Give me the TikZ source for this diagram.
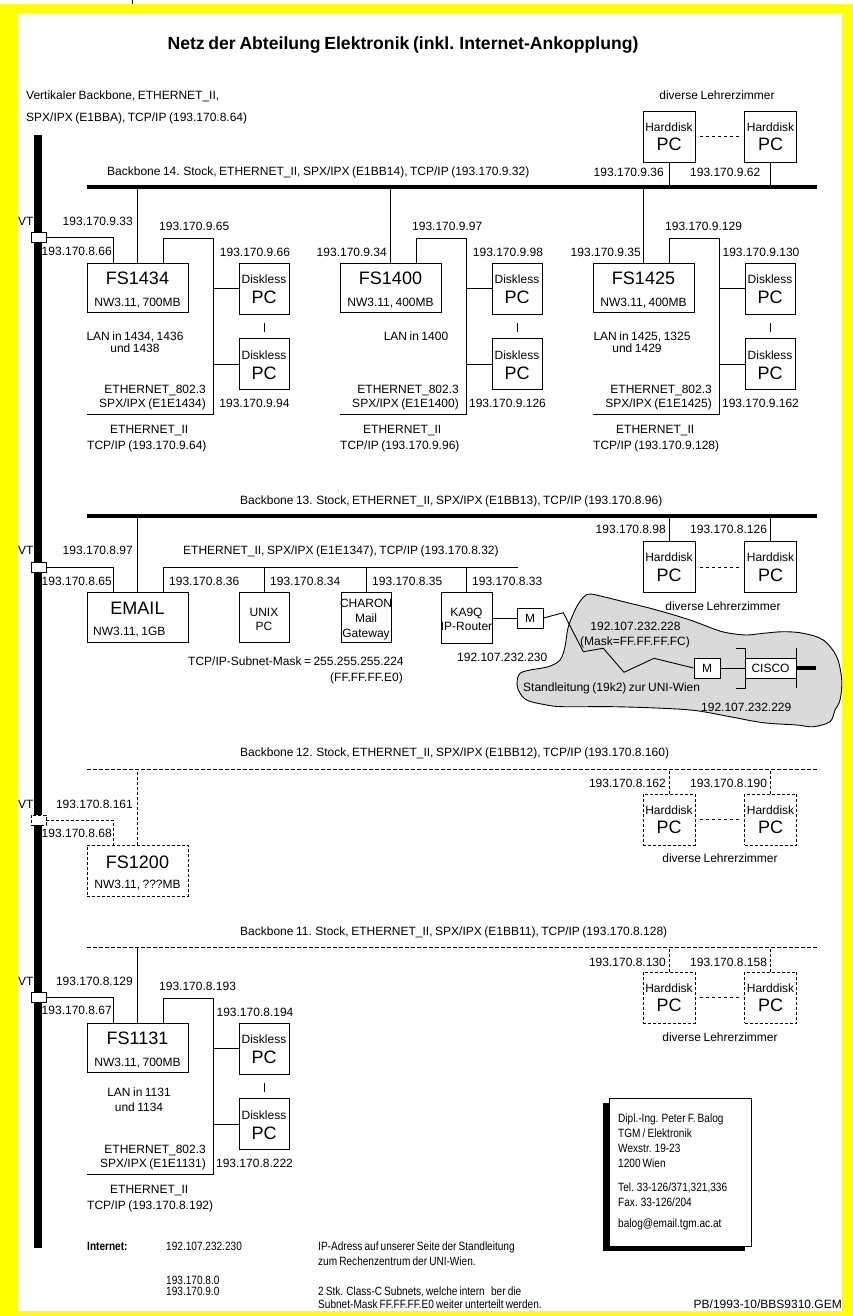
\documentclass[tikz,border=0pt]{standalone}
\usepackage{fontspec}
\setmainfont{Liberation Sans}[WordSpace=0.75]
\newfontfamily\narrowfont{Liberation Sans}[FakeStretch=0.84,WordSpace=0.75]
\usetikzlibrary{calc}
\definecolor{frameyellow}{RGB}{255,255,0}
\definecolor{cloudgray}{RGB}{218,218,218}
\tikzset{
  lbl/.style={inner sep=0pt, font=\fontsize{12}{14}\selectfont, anchor=base, yshift=-4.3pt},
  big/.style={inner sep=0pt, font=\fontsize{18}{20}\selectfont, anchor=base, yshift=-6.5pt},
  ttl/.style={inner sep=0pt, font=\bfseries\fontsize{17.6}{20}\selectfont, anchor=base, yshift=-6.3pt},
  nar/.style={inner sep=0pt, font=\narrowfont\fontsize{12}{14}\selectfont, anchor=base west, yshift=-4.3pt},
  ln/.style={line width=0.9pt},
  srvbox/.style={draw, ln, minimum width=101pt, minimum height=49pt, inner sep=0pt},
  pcbox/.style={draw, ln, minimum width=50pt, minimum height=51pt, inner sep=0pt},
  hdbox/.style={draw, ln, minimum width=52pt, minimum height=51pt, inner sep=0pt},
  smbox/.style={draw, ln, minimum width=50pt, minimum height=50pt, inner sep=0pt},
  vtbox/.style={draw, ln, fill=white, minimum width=15pt, minimum height=10pt, inner sep=0pt},
  mbox/.style={draw, ln, fill=white, minimum width=26pt, minimum height=20pt, inner sep=0pt},
  dsh/.style={dash pattern=on 3pt off 2pt},
  bbdash/.style={line width=0.9pt, dash pattern=on 4pt off 2pt},
  bbthick/.style={line width=3.5pt},
  gapdash/.style={ln, dash pattern=on 3pt off 3pt, shorten <=5pt, shorten >=3pt},
}
\newcommand{\FSgroup}[9]{%
\begin{scope}[shift={#1}]
  \node[srvbox] (#2box) at (50.5,24.5) {};
  \node[big] (#2name) at (50.5,15) {#3};
  \node[lbl] (#2nw) at (50.5,39) {#4};
  \coordinate (#2vp) at (26,0);
  \coordinate (#2lp) at (76,0);
  \coordinate (#2lc) at (126,-25);
  \coordinate (#2lb) at (126,151);
  \coordinate (#2le) at (0,151);
  \node[pcbox] (#2dla) at (177,25.5) {};
  \node[lbl] (#2dlat) at (177,16) {Diskless};
  \node[big] (#2dlap) at (177,34) {PC};
  \node[pcbox] (#2dlb) at (177,101) {};
  \node[lbl] (#2dlbt) at (177,92) {Diskless};
  \node[big] (#2dlbp) at (177,109.5) {PC};
  \draw[ln] (#2lp) |- (#2lc) -- (#2lb) -- (#2le);
  \draw[ln] (#2dla.west -| #2lc) -- (#2dla.west);
  \draw[ln] (#2dlb.west -| #2lc) -- (#2dlb.west);
  \draw[ln, shorten <=9pt, shorten >=6pt] (#2dla.south) -- (#2dlb.north);
  \node[lbl, anchor=base west] (#2iplp) at (72,-37) {#5};
  \node[lbl] (#2ipa) at (168,-11) {#6};
  \node[lbl] (#2ipb) at (167.5,140) {#7};
  \node[lbl, anchor=base east] (#2eth) at (119,126) {ETHERNET\_802.3};
  \node[lbl, anchor=base east] (#2spx) at (119,140) {#8};
  \node[lbl, anchor=base west] (#2ethii) at (23,166) {ETHERNET\_II};
  \node[lbl, anchor=base west] (#2tcp) at (0,182) {#9};
\end{scope}}
\newcommand{\HDbox}[4]{%
  \node[hdbox,#4] (#1) at (#2,#3) {};
  \node[lbl] (#1t) at (#2,#3-9.5) {Harddisk};
  \node[big] (#1p) at (#2,#3+7.5) {PC};}
\begin{document}
\begin{tikzpicture}[x=1pt,y=-1pt]
\useasboundingbox (0,0) rectangle (853,1316);
\fill[frameyellow] (0,4) rectangle (853,1316);
\fill[white] (17,13) rectangle (842,1311);
\draw[ln] (132,0) -- (132,4);
\node[ttl] (title) at (403,43) {Netz der Abteilung Elektronik (inkl. Internet-Ankopplung)};
\node[lbl,anchor=base west] (vbl1) at (26,95) {Vertikaler Backbone, ETHERNET\_II,};
\node[lbl,anchor=base west] (vbl2) at (26,117) {SPX/IPX (E1BBA), TCP/IP (193.170.8.64)};
\coordinate (vtop) at (38,135);
\coordinate (vbot) at (38,1248);
\draw[line width=8pt] (vtop) -- (vbot);

% ---------------- Backbone 14
\coordinate (bb14w) at (87,187);
\coordinate (bb14e) at (817,187);
\draw[bbthick] (bb14w) -- (bb14e);
\node[lbl,anchor=base west] (bb14l) at (107,171) {Backbone 14. Stock, ETHERNET\_II, SPX/IPX (E1BB14), TCP/IP (193.170.9.32)};
\node[lbl] (hd0cap) at (717,95) {diverse Lehrerzimmer};
\HDbox{hd0a}{669}{136.5}{}
\HDbox{hd0b}{770.5}{136.5}{}
\draw[ln] (hd0a.south) -- (hd0a.south |- bb14w);
\draw[ln] (hd0b.south) -- (hd0b.south |- bb14w);
\draw[gapdash] (hd0a.east) -- (hd0b.west);
\node[lbl,anchor=base east] (hd0al) at (664,172) {193.170.9.36};
\node[lbl,anchor=base west] (hd0bl) at (690,172) {193.170.9.62};

\FSgroup{(87,263)}{ga}{FS1434}{NW3.11, 700MB}{193.170.9.65}{193.170.9.66}{193.170.9.94}{SPX/IPX (E1E1434)}{TCP/IP (193.170.9.64)}
\draw[ln] (gabox.north) -- (gabox.north |- bb14w);
\node[vtbox] (vt1) at (38.5,237) {};
\draw[ln] (vt1.east) -| (gavp);
\node[lbl,anchor=base west] (vt1l) at (18,221) {VT};
\node[lbl,anchor=base east] (gaipv) at (112,251) {193.170.8.66};
\node[lbl,anchor=base east] (gaipb) at (133,221) {193.170.9.33};
\node[lbl] (galan1) at (135,336) {LAN in 1434, 1436};
\node[lbl] (galan2) at (135,348) {und 1438};

\FSgroup{(340,263)}{gb}{FS1400}{NW3.11, 400MB}{193.170.9.97}{193.170.9.98}{193.170.9.126}{SPX/IPX (E1E1400)}{TCP/IP (193.170.9.96)}
\draw[ln] (gbbox.north) -- (gbbox.north |- bb14w);
\node[lbl,anchor=base east] (gbipb) at (387,252) {193.170.9.34};
\node[lbl] (gblan1) at (416,336) {LAN in 1400};

\FSgroup{(593,263)}{gc}{FS1425}{NW3.11, 400MB}{193.170.9.129}{193.170.9.130}{193.170.9.162}{SPX/IPX (E1E1425)}{TCP/IP (193.170.9.128)}
\draw[ln] (gcbox.north) -- (gcbox.north |- bb14w);
\node[lbl,anchor=base east] (gcipb) at (641,252) {193.170.9.35};
\node[lbl] (gclan1) at (642,336) {LAN in 1425, 1325};
\node[lbl] (gclan2) at (637,348) {und 1429};

% ---------------- Backbone 13
\coordinate (bb13w) at (87,516);
\coordinate (bb13e) at (817,516);
\draw[bbthick] (bb13w) -- (bb13e);
\node[lbl,anchor=base west] (bb13l) at (240,500) {Backbone 13. Stock, ETHERNET\_II, SPX/IPX (E1BB13), TCP/IP (193.170.8.96)};
\node[vtbox] (vt2) at (38.5,567) {};
\node[lbl,anchor=base west] (vt2l) at (18,550) {VT};
\node[srvbox, minimum height=50pt] (email) at (137.5,617) {};
\node[big] (emailt) at (137.5,608) {EMAIL};
\node[lbl,anchor=base west] (emailnw) at (93,631) {NW3.11, 1GB};
\coordinate (emailvp) at (113,592);
\coordinate (emaillp) at (163,592);
\coordinate (lanend) at (518,567);
\draw[ln] (email.north) -- (email.north |- bb13w);
\draw[ln] (vt2.east) -| (emailvp);
\draw[ln] (emaillp) |- (lanend);
\node[lbl,anchor=base east] (emipb) at (133,550) {193.170.8.97};
\node[lbl,anchor=base east] (emipv) at (112,581) {193.170.8.65};
\node[lbl,anchor=base west] (lan13l) at (183,550) {ETHERNET\_II, SPX/IPX (E1E1347), TCP/IP (193.170.8.32)};
\node[smbox] (unix) at (264,617) {};
\node[lbl] (unixt1) at (264,612) {UNIX};
\node[lbl] (unixt2) at (264,626) {PC};
\node[smbox] (charon) at (366,617) {};
\node[lbl] (charont1) at (366,603) {CHARON};
\node[lbl] (charont2) at (366,618) {Mail};
\node[lbl] (charont3) at (366,633) {Gateway};
\node[smbox, minimum width=51pt, minimum height=51pt] (ka9q) at (466.5,617.5) {};
\node[lbl] (ka9qt1) at (466.5,612) {KA9Q};
\node[lbl] (ka9qt2) at (466.5,626) {IP-Router};
\draw[ln] (unix.north) -- (unix.north |- lanend);
\draw[ln] (charon.north) -- (charon.north |- lanend);
\draw[ln] (ka9q.north) -- (ka9q.north |- lanend);
\node[lbl,anchor=base west] (ipunix) at (169,581) {193.170.8.36};
\node[lbl,anchor=base west] (ipunix2) at (270,581) {193.170.8.34};
\node[lbl,anchor=base west] (ipcharon) at (372,581) {193.170.8.35};
\node[lbl,anchor=base west] (ipka) at (472,581) {193.170.8.33};
\node[lbl,anchor=base west] (mask1) at (188,661) {TCP/IP-Subnet-Mask = 255.255.255.224};
\node[lbl,anchor=base west] (mask2) at (330,677) {(FF.FF.FF.E0)};

% cloud
\draw[ln, fill=cloudgray] plot[smooth cycle, tension=0.55] coordinates {
 (517.3,680) (518.3,690) (526.7,700) (546.7,705) (563.3,706.7) (613.3,706.7)
 (663.3,708.3) (696.7,710.7) (730,716.7) (763.3,722.7) (796.7,725) (813.3,726.7)
 (830,721.7) (835,710) (840,700) (841.7,680) (836.7,656.7) (823.3,640)
 (803.3,633.3) (783.3,631.7) (763.3,633.3) (746.7,635) (730,633.3) (716.7,630)
 (690,620) (656.7,610) (630,603.3) (603.3,596.7) (590,594) (584,596.7)
 (576.7,606.7) (568.3,626.7) (565,646.7) (560,660) (548.3,666.7) (530,670) (520,673.3)};
\node[mbox] (m1) at (530,618) {};
\node[lbl] (m1t) at (530,618) {M};
\draw[ln] (ka9q.east |- m1.west) -- (m1.west);
\node[mbox] (m2) at (707,668) {};
\node[lbl] (m2t) at (707,668) {M};
\draw[ln] (m1.east) -- (563.3,612.7) -- (583.3,651.7) -- (603.3,648.3) -- (624,672.3) -- (654,658.3) -- (m2.west);
\node[draw, ln, fill=white, minimum width=51pt, minimum height=20pt, inner sep=0pt] (cisco) at (770.5,668) {};
\node[lbl] (ciscot) at (770.5,668) {CISCO};
\coordinate (cl1) at (745,648);
\coordinate (cl2) at (745,688);
\coordinate (cr1) at (796,648);
\coordinate (cr2) at (796,688);
\draw[ln] (736,648) -- (cl1) -- (cl2) -- (736,688);
\draw[ln] (cr1) -- (cr2);
\draw[ln] (m2.east) -- (cisco.west);
\draw[bbthick] (cisco.east) -- ++(20,0);
\node[lbl] (cip1) at (635.5,626) {192.107.232.228};
\node[lbl] (cip2) at (635,641) {(Mask=FF.FF.FF.FC)};
\node[lbl,anchor=base west] (cstand) at (523,687) {Standleitung (19k2) zur UNI-Wien};
\node[lbl,anchor=base west] (cip3) at (701,707) {192.107.232.229};
\node[lbl,anchor=base west] (kaip) at (457,657) {192.107.232.230};

\HDbox{hd13a}{669}{567}{}
\HDbox{hd13b}{770.5}{567}{}
\draw[ln] (hd13a.north) -- (hd13a.north |- bb13w);
\draw[ln] (hd13b.north) -- (hd13b.north |- bb13w);
\draw[gapdash] (hd13a.east) -- (hd13b.west);
\node[lbl,anchor=base east] (hd13al) at (666,529) {193.170.8.98};
\node[lbl,anchor=base west] (hd13bl) at (690,529) {193.170.8.126};
\node[lbl] (hd13cap) at (723,606) {diverse Lehrerzimmer};

% ---------------- Backbone 12
\coordinate (bb12w) at (87,769);
\coordinate (bb12e) at (819,769);
\draw[bbdash] (bb12w) -- (bb12e);
\node[lbl,anchor=base west] (bb12l) at (240,752) {Backbone 12. Stock, ETHERNET\_II, SPX/IPX (E1BB12), TCP/IP (193.170.8.160)};
\node[vtbox,dsh] (vt3) at (38.5,820) {};
\node[lbl,anchor=base west] (vt3l) at (18,804) {VT};
\node[srvbox,dsh, minimum height=51pt] (fs1200) at (137.5,870.5) {};
\node[big] (fs1200t) at (137.5,862) {FS1200};
\node[lbl] (fs1200nw) at (137.5,884) {NW3.11, ???MB};
\coordinate (fs1200vp) at (113,845);
\draw[ln,dsh] (fs1200.north) -- (fs1200.north |- bb12w);
\draw[ln,dsh] (vt3.east) -| (fs1200vp);
\node[lbl,anchor=base east] (fsipb) at (133,804) {193.170.8.161};
\node[lbl,anchor=base east] (fsipv) at (112,833) {193.170.8.68};
\HDbox{hd12a}{669}{819.5}{dsh}
\HDbox{hd12b}{770.5}{819.5}{dsh}
\draw[ln,dsh] (hd12a.north) -- (hd12a.north |- bb12w);
\draw[ln,dsh] (hd12b.north) -- (hd12b.north |- bb12w);
\draw[gapdash] (hd12a.east) -- (hd12b.west);
\node[lbl,anchor=base east] (hd12al) at (666,783) {193.170.8.162};
\node[lbl,anchor=base west] (hd12bl) at (690,783) {193.170.8.190};
\node[lbl] (hd12cap) at (720,858) {diverse Lehrerzimmer};

% ---------------- Backbone 11
\coordinate (bb11w) at (87,947);
\coordinate (bb11e) at (819,947);
\draw[bbdash] (bb11w) -- (bb11e);
\node[lbl,anchor=base west] (bb11l) at (240,931) {Backbone 11. Stock, ETHERNET\_II, SPX/IPX (E1BB11), TCP/IP (193.170.8.128)};
\FSgroup{(87,1023)}{gd}{FS1131}{NW3.11, 700MB}{193.170.8.193}{193.170.8.194}{193.170.8.222}{SPX/IPX (E1E1131)}{TCP/IP (193.170.8.192)}
\draw[ln] (gdbox.north) -- (gdbox.north |- bb11w);
\node[vtbox] (vt4) at (38.5,997) {};
\draw[ln] (vt4.east) -| (gdvp);
\node[lbl,anchor=base west] (vt4l) at (18,981) {VT};
\node[lbl,anchor=base east] (gdipv) at (112,1010) {193.170.8.67};
\node[lbl,anchor=base east] (gdipb) at (133,981) {193.170.8.129};
\node[lbl] (gdlan1) at (139,1092) {LAN in 1131};
\node[lbl] (gdlan2) at (139,1107) {und 1134};
\HDbox{hd11a}{669}{997.5}{dsh}
\HDbox{hd11b}{770.5}{997.5}{dsh}
\draw[ln,dsh] (hd11a.north) -- (hd11a.north |- bb11w);
\draw[ln,dsh] (hd11b.north) -- (hd11b.north |- bb11w);
\draw[gapdash] (hd11a.east) -- (hd11b.west);
\node[lbl,anchor=base east] (hd11al) at (666,962) {193.170.8.130};
\node[lbl,anchor=base west] (hd11bl) at (690,962) {193.170.8.158};
\node[lbl] (hd11cap) at (720,1037) {diverse Lehrerzimmer};

% ---------------- address box
\fill (603,1103) rectangle (745,1251);
\node[draw, ln, fill=white, minimum width=142pt, minimum height=148pt, inner sep=0pt] (addr) at (680,1172) {};
\node[nar] (a1) at (618,1118) {Dipl.-Ing. Peter F. Balog};
\node[nar] (a2) at (618,1133) {TGM / Elektronik};
\node[nar] (a3) at (618,1148) {Wexstr. 19-23};
\node[nar] (a4) at (618,1163) {1200 Wien};
\node[nar] (a5) at (618,1187) {Tel. 33-126/371,321,336};
\node[nar] (a6) at (618,1202) {Fax. 33-126/204};
\node[nar] (a7) at (618,1223) {balog@email.tgm.ac.at};

% ---------------- bottom notes
\node[nar, font=\narrowfont\bfseries\fontsize{12}{14}\selectfont] (inet) at (87,1246) {Internet:};
\node[nar] (n1) at (166,1246) {192.107.232.230};
\node[nar] (n2) at (318,1246) {IP-Adress auf unserer Seite der Standleitung};
\node[nar] (n3) at (318,1261) {zum Rechenzentrum der UNI-Wien.};
\node[nar] (n4) at (166,1280) {193.170.8.0};
\node[nar] (n5) at (166,1291) {193.170.9.0};
\node[nar] (n6) at (318,1291) {2 Stk. Class-C Subnets, welche intern \ \ ber die};
\node[nar] (n7) at (318,1304) {Subnet-Mask FF.FF.FF.E0 weiter unterteilt werden.};
\node[lbl, anchor=base east] (n8) at (842,1304) {PB/1993-10/BBS9310.GEM};
\end{tikzpicture}
\end{document}
